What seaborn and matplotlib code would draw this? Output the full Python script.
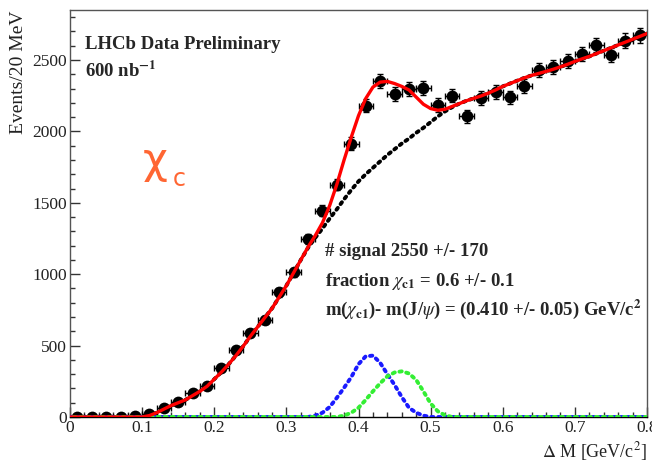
import numpy as np
import pandas as pd
import matplotlib
matplotlib.use("Agg")
import matplotlib.pyplot as plt
import seaborn as sns
from matplotlib.ticker import MultipleLocator

# --- data points (20 MeV bins) ---
bin_centers = np.round(np.arange(0.01, 0.80, 0.02), 2)
events = [0, 0, 0, 0, 5, 18, 65, 107, 166, 220,
          346, 470, 587, 680, 872, 1012, 1248, 1445, 1627, 1914,
          2181, 2356, 2263, 2298, 2305, 2186, 2251, 2106, 2235, 2277,
          2239, 2316, 2428, 2449, 2491, 2543, 2604, 2534, 2636, 2674]
events_err = [0, 0, 0, 0, 2, 4, 8, 10, 13, 15,
              19, 22, 24, 26, 30, 32, 35, 38, 40, 44,
              47, 49, 48, 48, 48, 47, 47, 46, 47, 48,
              47, 48, 49, 49, 50, 50, 51, 50, 51, 52]

# --- fit curves, read every 10 MeV ---
dm = np.round(np.arange(0.0, 0.801, 0.01), 2)
fit_total = [0, 0, 0, 0, 0, 0, 0, 0, 0, 0,
             0, 10, 30, 55, 80, 100, 120, 150, 180, 215,
             265, 315, 370, 430, 495, 565, 630, 695, 760, 840,
             920, 1010, 1100, 1190, 1270, 1360, 1480, 1630, 1800, 1960,
             2110, 2230, 2310, 2345, 2350, 2335, 2315, 2290, 2240, 2190,
             2160, 2148, 2155, 2175, 2195, 2215, 2232, 2248, 2268, 2290,
             2315, 2335, 2355, 2375, 2392, 2406, 2420, 2435, 2452, 2470,
             2490, 2508, 2525, 2545, 2565, 2585, 2605, 2625, 2645, 2665,
             2685]
fit_bkg = [0, 0, 0, 0, 0, 0, 0, 0, 0, 0,
           0, 10, 30, 55, 80, 100, 120, 150, 180, 215,
           265, 315, 370, 430, 495, 565, 630, 695, 760, 840,
           920, 1010, 1100, 1185, 1255, 1320, 1390, 1455, 1525, 1590,
           1650, 1700, 1745, 1790, 1835, 1875, 1915, 1950, 1990, 2025,
           2065, 2105, 2140, 2170, 2195, 2215, 2232, 2248, 2268, 2290,
           2315, 2335, 2355, 2375, 2392, 2406, 2420, 2435, 2452, 2470,
           2490, 2508, 2525, 2545, 2565, 2585, 2605, 2625, 2645, 2665,
           2685]
fit_chic1 = [0, 0, 0, 0, 0, 0, 0, 0, 0, 0,
             0, 0, 0, 0, 0, 0, 0, 0, 0, 0,
             0, 0, 0, 0, 0, 0, 0, 0, 0, 0,
             0, 0, 0, 0, 10, 30, 70, 135, 205, 280,
             370, 425, 430, 380, 300, 225, 140, 65, 30, 10,
             0, 0, 0, 0, 0, 0, 0, 0, 0, 0,
             0, 0, 0, 0, 0, 0, 0, 0, 0, 0,
             0, 0, 0, 0, 0, 0, 0, 0, 0, 0,
             0]
fit_chic2 = [0, 0, 0, 0, 0, 0, 0, 0, 0, 0,
             0, 0, 0, 0, 0, 0, 0, 0, 0, 0,
             0, 0, 0, 0, 0, 0, 0, 0, 0, 0,
             0, 0, 0, 0, 0, 0, 0, 0, 10, 30,
             65, 120, 180, 236, 285, 312, 320, 305, 260, 180,
             95, 40, 12, 0, 0, 0, 0, 0, 0, 0,
             0, 0, 0, 0, 0, 0, 0, 0, 0, 0,
             0, 0, 0, 0, 0, 0, 0, 0, 0, 0,
             0]

pts = pd.DataFrame({"dm": bin_centers, "n": events, "err": events_err})
curves = pd.DataFrame({"dm": dm, "total": fit_total, "bkg": fit_bkg,
                       "c1": fit_chic1, "c2": fit_chic2})

sns.set_theme(style="ticks")
plt.rcParams["font.family"] = ["Liberation Serif", "DejaVu Serif"]
plt.rcParams["mathtext.fontset"] = "stix"

fig = plt.figure(figsize=(6.52, 4.61), dpi=100)
ax = fig.add_axes([0.1074, 0.0954, 0.8849, 0.8829])

# data with error bars
ax.errorbar(pts["dm"], pts["n"], yerr=pts["err"], xerr=0.01, fmt="none",
            ecolor="black", elinewidth=1, capsize=2.5, capthick=1, zorder=2)
sns.scatterplot(data=pts, x="dm", y="n", ax=ax, color="black", s=72,
                edgecolor="black", linewidth=0, zorder=3)

# fit components
dot = (0, (0.6, 1.2))
sns.lineplot(data=curves, x="dm", y="bkg", ax=ax, color="black", lw=2.8,
             linestyle=dot, dash_capstyle="round", zorder=4)
sns.lineplot(data=curves, x="dm", y="c1", ax=ax, color="#1a1aff", lw=2.8,
             linestyle=dot, dash_capstyle="round", zorder=4)
sns.lineplot(data=curves, x="dm", y="c2", ax=ax, color="#33ee33", lw=2.8,
             linestyle=(0.9, (0.6, 1.2)), dash_capstyle="round", zorder=4)
sns.lineplot(data=curves, x="dm", y="total", ax=ax, color="#ff0000", lw=2.4,
             zorder=5)

ax.set_xlim(0, 0.8)
ax.set_ylim(0, 2850)
ax.xaxis.set_major_locator(MultipleLocator(0.1))
ax.xaxis.set_minor_locator(MultipleLocator(0.02))
ax.yaxis.set_major_locator(MultipleLocator(500))
ax.yaxis.set_minor_locator(MultipleLocator(100))
ax.set_xticks(np.arange(0, 0.81, 0.1))
ax.set_xticklabels(["0", "0.1", "0.2", "0.3", "0.4", "0.5", "0.6", "0.7", "0.8"])
ax.tick_params(which="both", direction="in", colors="#333333", labelsize=12.5,
               labelcolor="#222222", pad=2)
ax.tick_params(which="major", length=7, width=1)
ax.tick_params(which="minor", length=3.5, width=1)
for s in ax.spines.values():
    s.set_color("#555555")
    s.set_linewidth(1)
ax.spines["bottom"].set_color("black")

ax.set_xlabel(r"$\Delta$ M [GeV/c$^{2}$]", loc="right", fontsize=13, labelpad=3,
              color="#222222")
ax.set_ylabel("Events/20 MeV", loc="top", fontsize=14, labelpad=4,
              color="#222222")

# annotations
ax.text(0.021, 2574, "LHCb Data Preliminary", fontsize=13.5, fontweight="bold")
ax.text(0.021, 2384, r"600 nb$^{\mathbf{-1}}$", fontsize=13.5, fontweight="bold")
ax.text(0.101, 1711, "χ", fontsize=31, color="#ff6633", family="DejaVu Sans")
ax.text(0.142, 1620, "c", fontsize=17, color="#ff6633", family="DejaVu Sans")

ax.text(0.354, 1124, "# signal 2550 +/- 170", fontsize=13.5, fontweight="bold")
ax.text(0.354, 914, r"fraction $\chi_{\mathbf{c1}}$ = 0.6 +/- 0.1",
        fontsize=13.5, fontweight="bold")
ax.text(0.354, 715,
        r"m($\chi_{\mathbf{c1}}$)- m(J/$\psi$) = (0.410 +/- 0.05) GeV/c$^{\mathbf{2}}$",
        fontsize=13.5, fontweight="bold")

fig.savefig("out.png", dpi=100)
